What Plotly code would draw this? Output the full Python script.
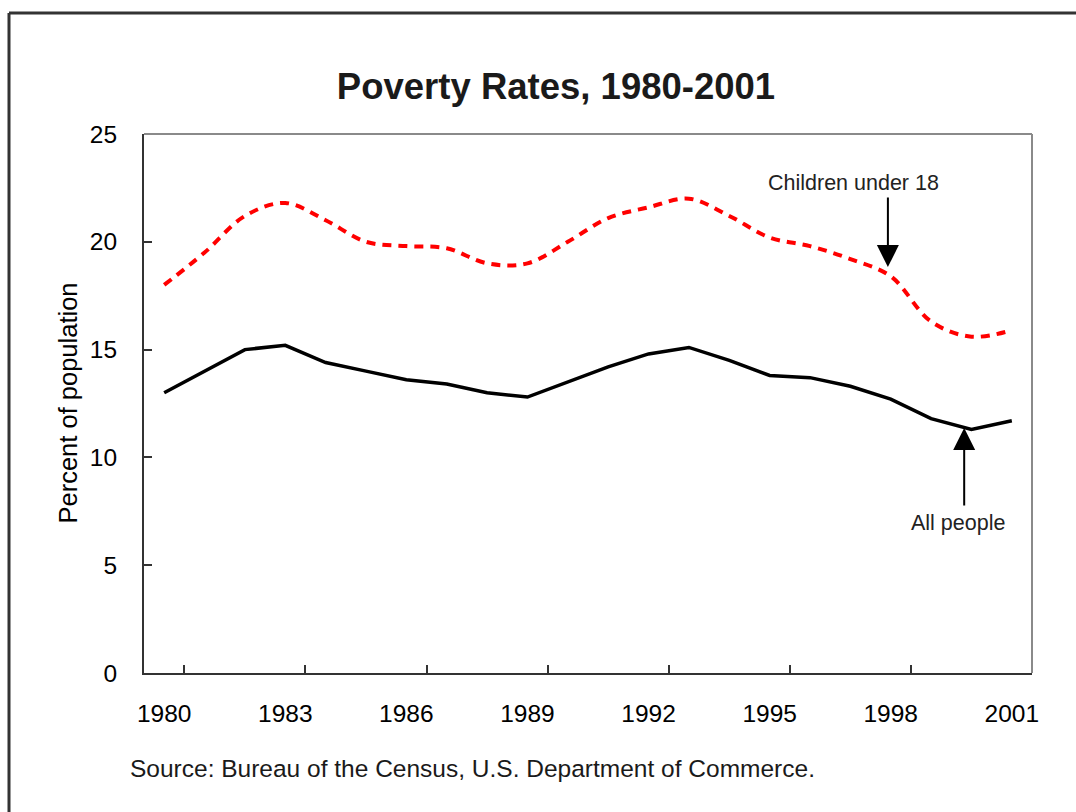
import plotly.graph_objects as go

years = list(range(1980, 2002))
all_people = [13.0, 14.0, 15.0, 15.2, 14.4, 14.0, 13.6, 13.4, 13.0, 12.8, 13.5,
              14.2, 14.8, 15.1, 14.5, 13.8, 13.7, 13.3, 12.7, 11.8, 11.3, 11.7]
children = [18.0, 19.5, 21.2, 21.8, 21.0, 20.0, 19.8, 19.7, 19.0, 19.0, 20.0,
            21.1, 21.6, 22.0, 21.2, 20.2, 19.8, 19.2, 18.4, 16.3, 15.6, 15.9]
tick_years = [1980, 1983, 1986, 1989, 1992, 1995, 1998, 2001]

idx = list(range(len(years)))
label_idx = [years.index(y) for y in tick_years]
boundary_idx = [i + 0.5 for i in label_idx[:-1]]

FONT = "Liberation Sans, Arial, sans-serif"
DARK = "#333333"

fig = go.Figure()
fig.add_trace(go.Scatter(x=idx, y=all_people, mode="lines",
                         line=dict(color="black", width=3.5), showlegend=False,
                         hoverinfo="skip"))
fig.add_trace(go.Scatter(x=idx, y=children, mode="lines", xaxis="x2",
                         line=dict(color="#ff0000", width=4, dash="9px,7px",
                                   shape="spline", smoothing=1),
                         showlegend=False, hoverinfo="skip"))

rng = [-0.5, len(years) - 0.5]
fig.update_layout(
    width=1076, height=812,
    margin=dict(l=144, r=44, t=134, b=139),
    paper_bgcolor="white", plot_bgcolor="white",
    font=dict(family=FONT, color="black", size=24),
    title=dict(text="<b>Poverty Rates, 1980-2001</b>", x=556 / 1076, xanchor="center",
               y=1 - 86 / 812, yanchor="middle", xref="container", yref="container",
               font=dict(size=36.5, color="#1a1a1a", family=FONT)),
    xaxis=dict(range=rng, tickmode="array", tickvals=label_idx,
               ticktext=[str(y) for y in tick_years], ticks="",
               showline=True, linecolor=DARK, linewidth=2, showgrid=False,
               zeroline=False, tickfont=dict(size=24.5), ticklabelstandoff=18),
    xaxis2=dict(range=rng, overlaying="x", anchor="y", side="bottom",
                tickmode="array", tickvals=boundary_idx, ticks="inside",
                ticklen=8, tickwidth=1.5, tickcolor=DARK, showticklabels=False,
                showline=False, showgrid=False, zeroline=False),
    yaxis=dict(range=[0, 25], tickmode="linear", tick0=0, dtick=5,
               ticks="inside", ticklen=8, tickwidth=1.5, tickcolor=DARK,
               showline=True, linecolor=DARK, linewidth=2, showgrid=False,
               zeroline=False, tickfont=dict(size=24.5), ticklabelstandoff=20),
    showlegend=False,
)

# plot-area top/right border (gray)
fig.add_shape(type="line", xref="paper", yref="paper", x0=0, x1=1, y0=1, y1=1,
              line=dict(color="#8a8a8a", width=2))
fig.add_shape(type="line", xref="paper", yref="paper", x0=1, x1=1, y0=0, y1=1,
              line=dict(color="#8a8a8a", width=2))
# outer frame (top and left edges visible)
fig.add_shape(type="line", xref="paper", yref="paper",
              x0=(9 - 144) / 888, x1=1.2, y0=(673 - 13) / 539, y1=(673 - 13) / 539,
              line=dict(color=DARK, width=3))
fig.add_shape(type="line", xref="paper", yref="paper",
              x0=(9 - 144) / 888, x1=(9 - 144) / 888, y0=(673 - 13) / 539, y1=-0.4,
              line=dict(color=DARK, width=3))

# y-axis title
fig.add_annotation(text="Percent of population", xref="paper", yref="paper",
                   x=(67 - 144) / 888, y=0.5, textangle=-90, showarrow=False,
                   xanchor="center", yanchor="middle",
                   font=dict(size=25.5, color="black"))
# source
fig.add_annotation(text="Source: Bureau of the Census, U.S. Department of Commerce.",
                   xref="paper", yref="paper", x=(128 - 144) / 888,
                   y=(673 - 768) / 539, showarrow=False, xanchor="left",
                   yanchor="middle", font=dict(size=24.5, color="#1a1a1a"))

# series labels with arrows
fig.add_annotation(text="Children under 18", x=17.07, y=22.73, showarrow=False,
                   xanchor="center", yanchor="middle",
                   font=dict(size=21.5, color="#222222"))
fig.add_annotation(x=17.93, y=18.83, ax=0, ay=-71, text="", showarrow=True,
                   arrowhead=2, arrowsize=2.2, arrowwidth=2, arrowcolor="black")
fig.add_annotation(text="All people", x=19.67, y=6.96, showarrow=False,
                   xanchor="center", yanchor="middle",
                   font=dict(size=21.5, color="#222222"))
fig.add_annotation(x=19.82, y=11.36, ax=0, ay=79, text="", showarrow=True,
                   arrowhead=2, arrowsize=2.2, arrowwidth=2, arrowcolor="black")

fig.write_html("out.html")
